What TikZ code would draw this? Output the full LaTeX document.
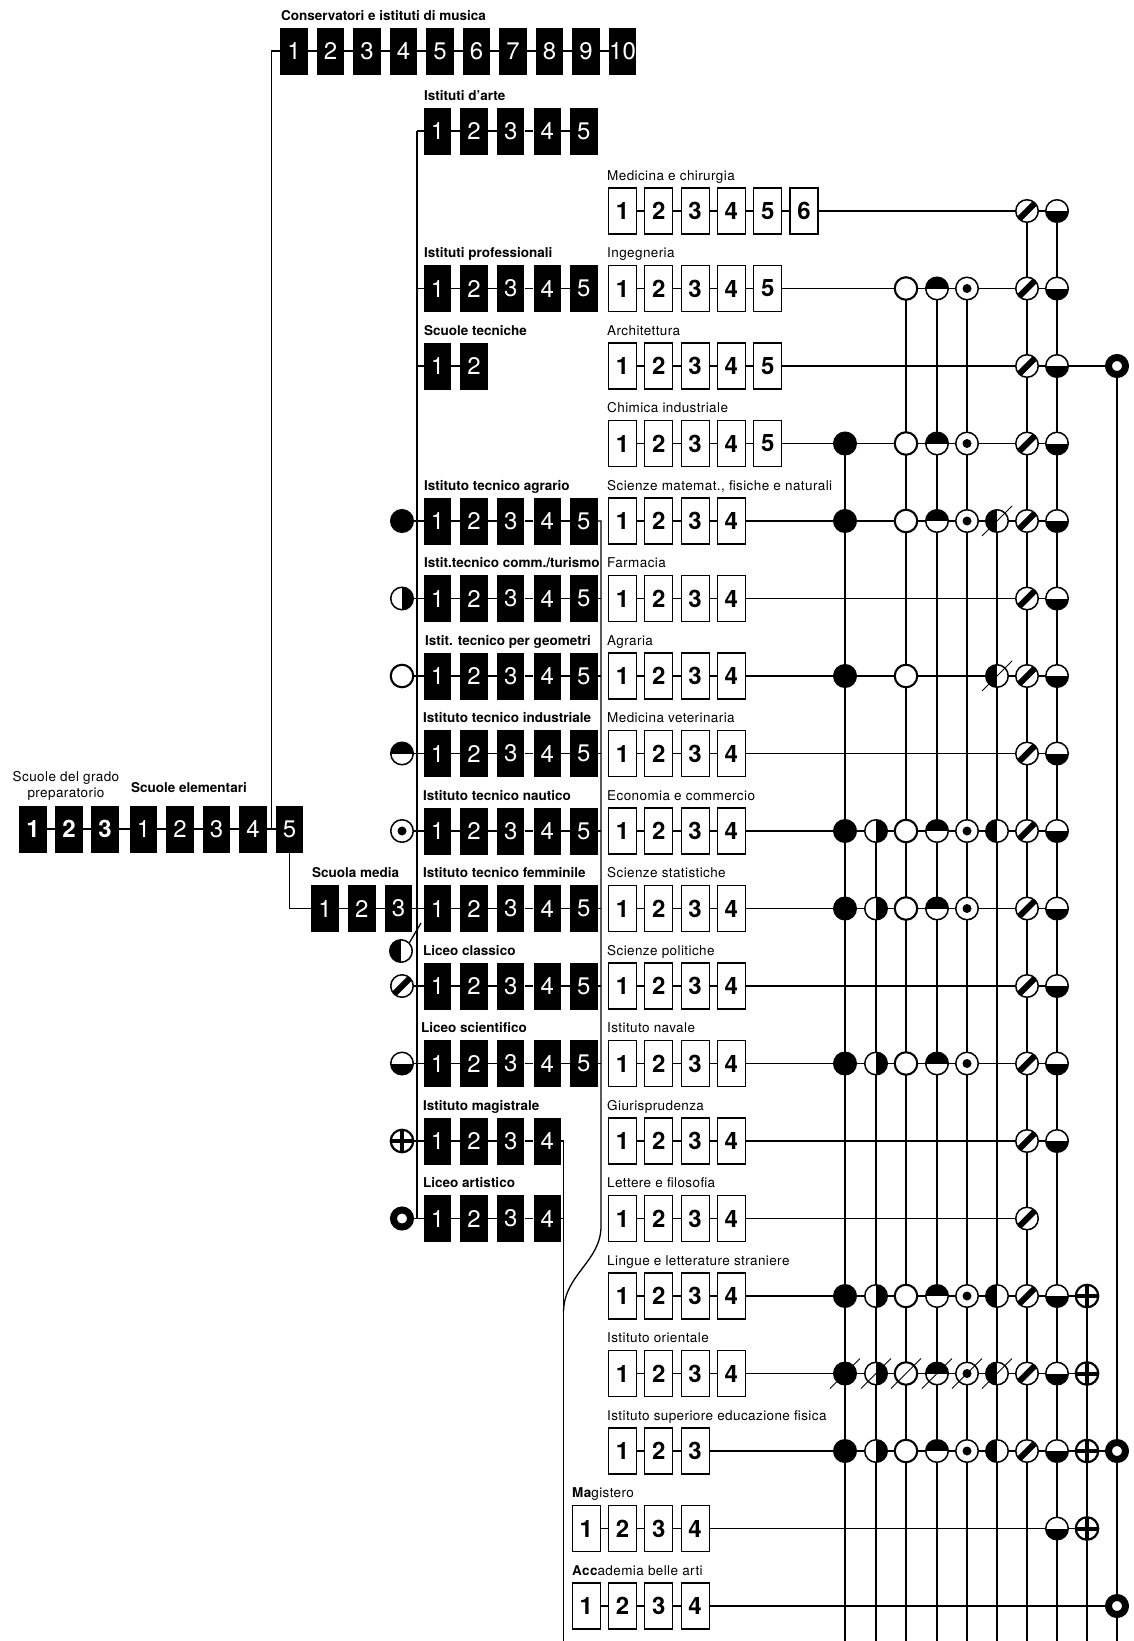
\documentclass[tikz,border=0pt]{standalone}
\usepackage{fontspec}
\setmainfont{TeX Gyre Heros}
\newfontfamily\labfont[LetterSpace=3]{TeX Gyre Heros}
\pgfdeclarelayer{paper}
\pgfdeclarelayer{bg}
\pgfsetlayers{paper,bg,main}

\def\cxA{845}\def\cxB{876}\def\cxC{906}\def\cxD{937}\def\cxE{967}
\def\cxF{997}\def\cxG{1027}\def\cxH{1057}\def\cxI{1087}\def\cxJ{1117}

\tikzset{
  conn/.style={line width=1.3pt},
  gl/.style={line width=1.5pt},
  slash/.style={line width=1pt},
  bbox/.style={rectangle, fill=black, text=white, minimum width=27.5pt, minimum height=47pt, inner sep=0pt, font=\fontsize{24}{24}\selectfont},
  bboxb/.style={bbox, font=\fontsize{24}{24}\selectfont\bfseries},
  wbox/.style={rectangle, draw=black, line width=1.2pt, fill=white, minimum width=28pt, minimum height=46pt, inner sep=0pt, font=\fontsize{24}{24}\selectfont\bfseries},
  hlab/.style={anchor=base west, inner sep=0pt, font=\fontsize{13.5}{16}\selectfont\bfseries},
  ulab/.style={anchor=base west, inner sep=0pt, font=\labfont\fontsize{13.5}{16}\selectfont},
  sym/.style={circle, inner sep=0pt, minimum size=22.5pt, draw=black, line width=1.5pt, fill=white},
  sA/.style={sym, fill=black},
  sB/.style={sym, path picture={\fill[black] (path picture bounding box.north) rectangle (path picture bounding box.south east);}},
  sC/.style={sym, line width=2.1pt},
  sD/.style={sym, path picture={\fill[black] (path picture bounding box.west) rectangle (path picture bounding box.north east);}},
  sE/.style={sym, path picture={\fill[black] (path picture bounding box.center) circle[radius=4.5pt];}},
  sF/.style={sym, path picture={\fill[black] (path picture bounding box.north west) rectangle (path picture bounding box.south);}},
  sG/.style={sym, path picture={\draw[line width=6pt] (path picture bounding box.south west) -- (path picture bounding box.north east);}},
  sH/.style={sym, path picture={\fill[black] (path picture bounding box.west) rectangle (path picture bounding box.south east);}},
  sI/.style={sym, line width=2.2pt, path picture={\draw[line width=4pt] (path picture bounding box.north) -- (path picture bounding box.south) (path picture bounding box.west) -- (path picture bounding box.east);}},
  sJ/.style={circle, inner sep=0pt, minimum size=17pt, draw=black, line width=7pt, fill=white},
}

% prefix, x0, pitch, y, n, style
\newcommand{\BRow}[6]{%
  \foreach \i in {1,...,#5}{%
    \node[#6] (#1\i) at ({#2+(\i-1)*#3},#4) {\i};}%
  \foreach \i in {2,...,#5}{%
    \pgfmathtruncatemacro{\j}{\i-1}%
    \draw[conn] (#1\j) -- (#1\i);}%
}
% rowname, y, list col/style
\newcommand{\GRow}[3]{%
  \foreach \c/\s in {#3}{%
    \edef\tmp{\noexpand\node[\s] (#1-\c) at (\csname cx\c\endcsname,#2) {};}\tmp}%
}

\begin{document}
\begin{tikzpicture}[x=1pt,y=-1pt]
\begin{pgfonlayer}{paper}
\fill[white] (0,0) rectangle (1133,1641);
\end{pgfonlayer}
\useasboundingbox (0,0) rectangle (1133,1641);
\coordinate (bot) at (0,1641);

% ---------- elementary and preparatory
\BRow{pr}{33}{36}{829}{3}{bboxb}
\BRow{el}{143.5}{36.5}{829}{5}{bbox}
\draw[conn] (pr3) -- (el1);
\node[ulab, anchor=base] (lprep1) at (66,781) {Scuole del grado};
\node[ulab, anchor=base] (lprep2) at (66,797) {preparatorio};
\node[hlab] (lel) at (131,792) {Scuole elementari};

% ---------- conservatori
\BRow{cv}{294}{36.5}{51}{10}{bbox}
\node[hlab] (lcv) at (281,20) {Conservatori e istituti di musica};
\coordinate (cvB) at (271.5,829);
\coordinate (cvT) at (271.5,51);
\draw[conn] (cvB) -- (cvT) -- (cv1);

% ---------- scuola media
\BRow{sm}{325}{36.75}{908.5}{3}{bbox}
\node[hlab] (lsm) at (312,877) {Scuola media};
\draw[conn] (el5.south) -- (el5.south |- sm1) -- (sm1);

% ---------- secondary schools
\BRow{ar}{437.5}{36.6}{131}{5}{bbox}
\BRow{pf}{437.5}{36.6}{288.5}{5}{bbox}
\BRow{st}{437.5}{36.6}{366}{2}{bbox}
\BRow{ag}{437.5}{36.6}{521}{5}{bbox}
\BRow{cm}{437.5}{36.6}{598.5}{5}{bbox}
\BRow{ge}{437.5}{36.6}{676}{5}{bbox}
\BRow{id}{437.5}{36.6}{753.5}{5}{bbox}
\BRow{na}{437.5}{36.6}{831}{5}{bbox}
\BRow{fe}{437.5}{36.6}{908.5}{5}{bbox}
\BRow{lc}{437.5}{36.6}{986}{5}{bbox}
\BRow{ls}{437.5}{36.6}{1063.5}{5}{bbox}
\BRow{mg}{437.5}{36.6}{1141}{4}{bbox}
\BRow{la}{437.5}{36.6}{1218.5}{4}{bbox}

\node[hlab] (lar) at (424,100) {Istituti d'arte};
\node[hlab] (lpf) at (424,257.5) {Istituti professionali};
\node[hlab] (lst) at (424,335) {Scuole tecniche};
\node[hlab] (lag) at (424,490) {Istituto tecnico agrario};
\node[hlab] (lcm) at (424,567.5) {Istit.tecnico comm./turismo};
\node[hlab] (lge) at (425,645) {Istit. tecnico per geometri};
\node[hlab] (lid) at (423,722.5) {Istituto tecnico industriale};
\node[hlab] (lna) at (423,800) {Istituto tecnico nautico};
\node[hlab] (lfe) at (423,877.5) {Istituto tecnico femminile};
\node[hlab] (llc) at (423,955) {Liceo classico};
\node[hlab] (lls) at (421,1032.5) {Liceo scientifico};
\node[hlab] (lmg) at (423,1110) {Istituto magistrale};
\node[hlab] (lla) at (423,1187.5) {Liceo artistico};

% legend symbols
\node[sA] (gA) at (402,521) {};
\node[sB] (gB) at (402,598.5) {};
\node[sC] (gC) at (402,676) {};
\node[sD] (gD) at (402,753.5) {};
\node[sE] (gE) at (402,831) {};
\node[sF] (gF) at (401,951) {};
\node[sG] (gG) at (402,986) {};
\node[sH] (gH) at (402,1063.5) {};
\node[sI] (gI) at (402,1141) {};
\node[sJ] (gJ) at (402,1218.5) {};
\foreach \g/\b in {gA/ag1,gB/cm1,gC/ge1,gD/id1,gE/na1,gG/lc1,gH/ls1,gI/mg1,gJ/la1}
  \draw[conn] (\g) -- (\b);
\coordinate (fjoin) at (421,923);
\draw[conn] (gF.north east) -- (fjoin);

% spine
\coordinate (spT) at (417,131);
\coordinate (spB) at (417,1218.5);
\draw[conn] (spT) -- (spB);
\draw[conn] (spT) -- (ar1);
\draw[conn] (spT |- pf1) -- (pf1);
\draw[conn] (spT |- st1) -- (st1);
\draw[conn] (sm3) -- (fe1);

% right collector lines
\coordinate (rvT) at (601,521);
\coordinate (rvM) at (601,1226);
\coordinate (rvE) at (563.5,1312);
\draw[conn] (ag5) -- (rvT) -- (rvM) .. controls (601,1262) and (564,1274) .. (rvE);
\foreach \p in {cm,ge,id,na,fe,lc,ls}
  \draw[conn] (\p5) -- (\p5 -| rvT);
\coordinate (mvT) at (563.5,1141);
\coordinate (mvB) at (563.5,1641);
\draw[conn] (mg4) -- (mvT) -- (mvB);
\draw[conn] (la4) -- (la4 -| mvT);

% ---------- university rows
\BRow{u1-}{622.5}{36.3}{211}{6}{wbox}
\BRow{u2-}{622.5}{36.3}{288.5}{5}{wbox}
\BRow{u3-}{622.5}{36.3}{366}{5}{wbox}
\BRow{u4-}{622.5}{36.3}{443.5}{5}{wbox}
\BRow{u5-}{622.5}{36.3}{521}{4}{wbox}
\BRow{u6-}{622.5}{36.3}{598.5}{4}{wbox}
\BRow{u7-}{622.5}{36.3}{676}{4}{wbox}
\BRow{u8-}{622.5}{36.3}{753.5}{4}{wbox}
\BRow{u9-}{622.5}{36.3}{831}{4}{wbox}
\BRow{u10-}{622.5}{36.3}{908.5}{4}{wbox}
\BRow{u11-}{622.5}{36.3}{986}{4}{wbox}
\BRow{u12-}{622.5}{36.3}{1063.5}{4}{wbox}
\BRow{u13-}{622.5}{36.3}{1141}{4}{wbox}
\BRow{u14-}{622.5}{36.3}{1218.5}{4}{wbox}
\BRow{u15-}{622.5}{36.3}{1296}{4}{wbox}
\BRow{u16-}{622.5}{36.3}{1373.5}{4}{wbox}
\BRow{u17-}{622.5}{36.3}{1451}{3}{wbox}
\BRow{u18-}{586.2}{36.3}{1528.5}{4}{wbox}
\BRow{u19-}{586.2}{36.3}{1606}{4}{wbox}

\node[ulab] (lu1) at (607,180) {Medicina e chirurgia};
\node[ulab] (lu2) at (607,257.5) {Ingegneria};
\node[ulab] (lu3) at (607,335) {Architettura};
\node[ulab] (lu4) at (607,412.5) {Chimica industriale};
\node[ulab] (lu5) at (607,490) {Scienze matemat., fisiche e naturali};
\node[ulab] (lu6) at (607,567.5) {Farmacia};
\node[ulab] (lu7) at (607,645) {Agraria};
\node[ulab] (lu8) at (607,722.5) {Medicina veterinaria};
\node[ulab] (lu9) at (607,800) {Economia e commercio};
\node[ulab] (lu10) at (607,877.5) {Scienze statistiche};
\node[ulab] (lu11) at (607,955) {Scienze politiche};
\node[ulab] (lu12) at (607,1032.5) {Istituto navale};
\node[ulab] (lu13) at (607,1110) {Giurisprudenza};
\node[ulab] (lu14) at (607,1187.5) {Lettere e filosofia};
\node[ulab] (lu15) at (607,1265) {Lingue e letterature straniere};
\node[ulab] (lu16) at (607,1342.5) {Istituto orientale};
\node[ulab] (lu17) at (607,1420) {Istituto superiore educazione fisica};
\node[ulab] (lu18) at (572,1497.5) {{\bfseries Ma}gistero};
\node[ulab] (lu19) at (572,1575) {{\bfseries Acc}ademia belle arti};

% ---------- grid symbols
\GRow{r1}{211}{G/sG,H/sH}
\GRow{r2}{288.5}{C/sC,D/sD,E/sE,G/sG,H/sH}
\GRow{r3}{366}{G/sG,H/sH,J/sJ}
\GRow{r4}{443.5}{A/sA,C/sC,D/sD,E/sE,G/sG,H/sH}
\GRow{r5}{521}{A/sA,C/sC,D/sD,E/sE,F/sF,G/sG,H/sH}
\GRow{r6}{598.5}{G/sG,H/sH}
\GRow{r7}{676}{A/sA,C/sC,F/sF,G/sG,H/sH}
\GRow{r8}{753.5}{G/sG,H/sH}
\GRow{r9}{831}{A/sA,B/sB,C/sC,D/sD,E/sE,F/sF,G/sG,H/sH}
\GRow{r10}{908.5}{A/sA,B/sB,C/sC,D/sD,E/sE,G/sG,H/sH}
\GRow{r11}{986}{G/sG,H/sH}
\GRow{r12}{1063.5}{A/sA,B/sB,C/sC,D/sD,E/sE,G/sG,H/sH}
\GRow{r13}{1141}{G/sG,H/sH}
\GRow{r14}{1218.5}{G/sG}
\GRow{r15}{1296}{A/sA,B/sB,C/sC,D/sD,E/sE,F/sF,G/sG,H/sH,I/sI}
\GRow{r16}{1373.5}{A/sA,B/sB,C/sC,D/sD,E/sE,F/sF,G/sG,H/sH,I/sI}
\GRow{r17}{1451}{A/sA,B/sB,C/sC,D/sD,E/sE,F/sF,G/sG,H/sH,I/sI,J/sJ}
\GRow{r18}{1528.5}{H/sH,I/sI}
\GRow{r19}{1606}{J/sJ}

\foreach \n in {r5-F,r7-F,r16-A,r16-B,r16-C,r16-D,r16-E,r16-F}
  \draw[slash] ([shift={(-15,15)}]\n.center) -- ([shift={(15,-15)}]\n.center);

\begin{pgfonlayer}{bg}
\foreach \r/\c in {r4/A,r9/B,r2/C,r2/D,r2/E,r5/F,r1/G,r1/H,r15/I,r3/J}
  \draw[gl] (\r-\c.center) -- (\r-\c.center |- bot);
\foreach \u/\t in {u1-6/r1-H,u2-5/r2-H,u3-5/r3-J,u4-5/r4-H,u5-4/r5-H,u6-4/r6-H,u7-4/r7-H,u8-4/r8-H,u9-4/r9-H,u10-4/r10-H,u11-4/r11-H,u12-4/r12-H,u13-4/r13-H,u14-4/r14-G,u15-4/r15-I,u16-4/r16-I,u17-3/r17-J,u18-4/r18-I,u19-4/r19-J}
  \draw[gl] (\u) -- (\t.center);
\end{pgfonlayer}
\end{tikzpicture}
\end{document}
